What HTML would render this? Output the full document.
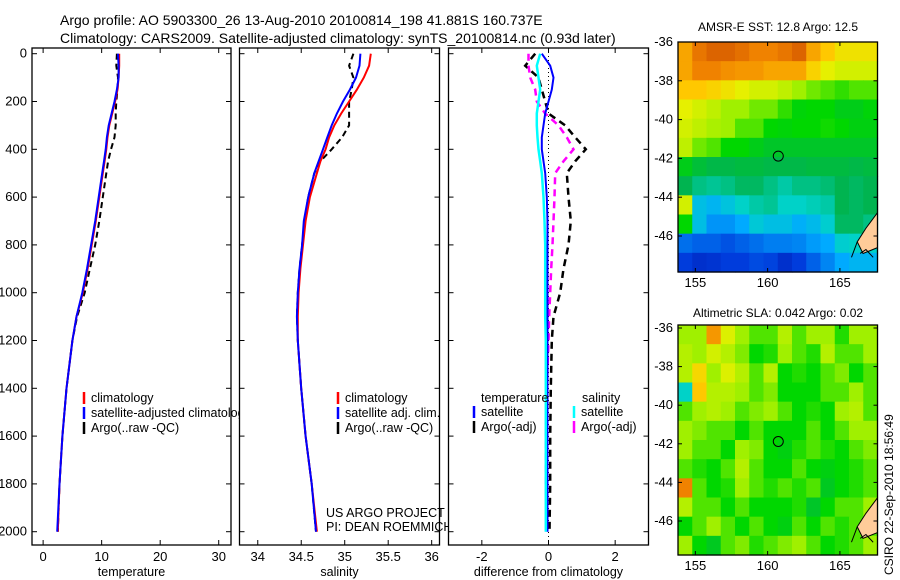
<!DOCTYPE html>
<html><head><meta charset="utf-8"><style>
body{margin:0;background:#fff;}
svg{display:block;font-family:"Liberation Sans",sans-serif;}
</style></head><body>
<svg id="fig" width="900" height="580" viewBox="0 0 900 580">
<text x="60" y="25" font-size="14">Argo profile: AO 5903300_26 13-Aug-2010 20100814_198 41.881S 160.737E</text>
<text x="60" y="43" font-size="14">Climatology: CARS2009. Satellite-adjusted climatology: synTS_20100814.nc (0.93d later)</text>
<text x="778" y="31" font-size="12" text-anchor="middle">AMSR-E SST: 12.8 Argo: 12.5</text>
<text x="778" y="317" font-size="12" text-anchor="middle">Altimetric SLA: 0.042 Argo: 0.02</text>
<text transform="translate(893,575) rotate(-90)" font-size="12">CSIRO 22-Sep-2010 18:56:49</text>
<g id="plots"></g>
</svg>
<script>
// ---- data ----
const depths = [0,50,100,150,200,250,300,350,400,450,500,600,700,800,900,1000,1100,1200,1400,1600,1800,2000];
const tempClim = [13.0,13.0,12.9,12.7,12.3,11.8,11.3,11.0,10.8,10.5,10.2,9.6,9.0,8.3,7.6,6.8,5.7,5.0,4.0,3.3,2.8,2.5];
const tempSat  = [12.8,12.9,12.9,12.6,12.2,11.7,11.2,10.9,10.7,10.4,10.1,9.5,8.9,8.2,7.5,6.7,5.7,5.0,4.0,3.3,2.8,2.4];
const tempArgo = [12.6,12.5,12.8,12.7,12.5,12.4,12.4,12.2,11.6,11.1,10.8,10.2,9.6,8.9,8.0,7.1,5.8,5.0,4.0,3.3,2.8,2.5];
const salClim = [35.30,35.28,35.22,35.14,35.05,34.96,34.88,34.82,34.78,34.72,34.68,34.60,34.55,34.52,34.49,34.47,34.46,34.46,34.50,34.55,34.62,34.68];
const salSat  = [35.18,35.17,35.13,35.06,34.98,34.91,34.85,34.80,34.75,34.70,34.65,34.58,34.53,34.51,34.48,34.46,34.45,34.46,34.50,34.55,34.62,34.67];
const salArgo = [35.10,35.05,35.10,35.08,35.05,35.05,35.05,34.97,34.85,34.72,34.65,34.58,34.54,34.51,34.48,34.46,34.45,34.46,34.50,34.55,34.62,34.67];
const dTempSat  = [-0.2,0.05,0.15,0.1,0,-0.1,-0.15,-0.2,-0.2,-0.15,-0.1,-0.05,-0.03,-0.03,-0.03,-0.03,-0.03,-0.03,-0.03,-0.03,-0.03,-0.03];
const dTempArgo = [-0.4,-0.7,-0.3,-0.2,-0.1,0,0.5,0.8,1.12,0.8,0.55,0.6,0.67,0.6,0.45,0.35,0.15,0.1,0.07,0.05,0.05,0.03];
const dSalSat   = [-0.25,-0.35,-0.3,-0.25,-0.3,-0.35,-0.35,-0.33,-0.3,-0.25,-0.2,-0.15,-0.12,-0.1,-0.1,-0.1,-0.1,-0.08,-0.08,-0.08,-0.08,-0.08];
const dSalArgo  = [-0.6,-0.6,-0.55,-0.4,-0.35,-0.1,0.3,0.55,0.75,0.45,0.2,0.18,0.15,0.12,0.08,0.05,0.02,0.0,-0.05,-0.08,-0.08,-0.05];
const depthTicks = [0,200,400,600,800,1000,1200,1400,1600,1800,2000];
const tempTicks = [0,10,20,30];
const salTicks = [34,34.5,35,35.5,36];
const diffTicks = [-2,0,2];
const lonTicks = [155,160,165];
const latTicks = [-36,-38,-40,-42,-44,-46];
const sstGrid = [
[.85,.92,.95,.95,.93,.9,.9,.92,.95,.85,.8,.75,.75,.75],
[.85,.9,.9,.88,.87,.87,.85,.85,.85,.78,.72,.7,.7,.7],
[.8,.8,.78,.75,.72,.7,.7,.68,.65,.62,.6,.58,.6,.6],
[.72,.7,.68,.65,.65,.62,.62,.58,.54,.55,.55,.52,.52,.54],
[.7,.68,.66,.65,.6,.6,.55,.54,.55,.55,.56,.55,.53,.53],
[.68,.62,.6,.55,.55,.52,.5,.5,.5,.5,.5,.5,.5,.5],
[.52,.48,.46,.46,.47,.47,.46,.46,.46,.47,.47,.47,.46,.47],
[.45,.42,.41,.42,.44,.44,.42,.4,.42,.42,.43,.45,.44,.45],
[.7,.34,.32,.35,.38,.4,.41,.38,.38,.39,.4,.45,.44,.45],
[.55,.34,.27,.27,.3,.36,.34,.34,.31,.33,.37,.44,.44,.42],
[.22,.2,.2,.18,.2,.22,.24,.24,.25,.28,.3,.37,.38,.38],
[.15,.12,.13,.15,.15,.17,.16,.12,.15,.2,.25,.3,.32,.32]];
const slaGrid = [
[.6,.6,.82,.66,.6,.55,.55,.62,.55,.6,.6,.52,.6,.6],
[.62,.6,.65,.62,.58,.5,.52,.6,.55,.52,.62,.55,.55,.6],
[.62,.72,.6,.66,.62,.55,.62,.5,.52,.5,.55,.58,.5,.55],
[.33,.75,.62,.62,.6,.55,.58,.5,.5,.5,.55,.55,.6,.55],
[.55,.6,.62,.6,.55,.58,.6,.55,.5,.52,.5,.6,.62,.55],
[.6,.58,.55,.55,.5,.55,.5,.5,.5,.55,.5,.55,.6,.6],
[.6,.55,.55,.5,.6,.58,.5,.48,.52,.55,.52,.5,.55,.58],
[.55,.52,.5,.55,.62,.55,.5,.5,.55,.5,.48,.5,.52,.55],
[.85,.55,.5,.52,.6,.55,.52,.55,.52,.55,.46,.5,.52,.55],
[.62,.55,.55,.5,.55,.5,.5,.5,.52,.45,.5,.55,.55,.6],
[.5,.55,.6,.55,.5,.55,.5,.48,.55,.5,.55,.52,.55,.55],
[.6,.5,.46,.55,.58,.52,.55,.58,.6,.55,.5,.52,.55,.6]];
const argoLon = 160.737, argoLat = -41.881;

// ---- drawing ----
const NS='http://www.w3.org/2000/svg';
const root=document.getElementById('plots');
function mk(tag,attrs,parent){const e=document.createElementNS(NS,tag);for(const k in attrs)e.setAttribute(k,attrs[k]);(parent||root).appendChild(e);return e;}
const Y0=48,Y1=545;
const yD=d=>53.7+d*0.2390;

function panel(name,x0,x1,vmin,vmax,ticks,fmt,label){
  const g=mk('g',{});
  
  
  const sx=v=>x0+(v-vmin)/(vmax-vmin)*(x1-x0);
  const r=mk('rect',{x:x0,y:Y0,width:x1-x0,height:Y1-Y0,fill:'#fff',stroke:'#000','stroke-width':1.3},g);
  
  
  ticks.forEach(t=>{
    mk('line',{x1:sx(t),x2:sx(t),y1:Y1,y2:Y1-5,stroke:'#000'},g);
    mk('line',{x1:sx(t),x2:sx(t),y1:Y0,y2:Y0+5,stroke:'#000'},g);
    const tx=mk('text',{x:sx(t),y:Y1+16,'font-size':13,'text-anchor':'middle'},g);
    tx.textContent=fmt(t);
    
    
  });
  depthTicks.forEach(d=>{
    mk('line',{x1:x0,x2:x0+5,y1:yD(d),y2:yD(d),stroke:'#000'},g);
    mk('line',{x1:x1,x2:x1-5,y1:yD(d),y2:yD(d),stroke:'#000'},g);
  });
  const xl=mk('text',{x:(x0+x1)/2,y:576,'font-size':12.5,'text-anchor':'middle'},g);
  xl.textContent=label;
  
  
  return {g,sx};
}
function line(p,vals,color,dash,w,name){
  const pts=vals.map((v,i)=>p.sx(v).toFixed(1)+','+yD(depths[i]).toFixed(1)).join(' ');
  const e=mk('polyline',{points:pts,fill:'none',stroke:color,'stroke-width':w||2,'stroke-dasharray':dash||'none'},p.g);
  
  
}
function legend(g,x,y,items){
  items.forEach((it,i)=>{
    mk('line',{x1:x,x2:x,y1:y+i*15-10,y2:y+i*15+2,stroke:it[1],'stroke-width':2.5},g);
    const t=mk('text',{x:x+7,y:y+i*15,'font-size':12.5},g);
    t.textContent=it[0];
    
    
  });
}

depthTicks.forEach(d=>{
  const t=mk('text',{x:27,y:yD(d)+4,'font-size':13,'text-anchor':'end'});
  t.textContent=d;
  
  
});

const p1=panel('temperature-panel',32,231,-1.9,32.1,tempTicks,t=>t,'temperature');
line(p1,tempArgo,'#000','6,4',2,'argo-temperature-line');
line(p1,tempClim,'#f00',null,2,'climatology-temperature-line');
line(p1,tempSat,'#00f',null,2,'satellite-temperature-line');
legend(p1.g,84,402,[['climatology','#f00'],['satellite-adjusted climatology','#00f'],['Argo(..raw -QC)','#000']]);

const p2=panel('salinity-panel',239.5,439.5,33.79,36.09,salTicks,t=>t,'salinity');
line(p2,salArgo,'#000','6,4',2,'argo-salinity-line');
line(p2,salClim,'#f00',null,2,'climatology-salinity-line');
line(p2,salSat,'#00f',null,2,'satellite-salinity-line');
legend(p2.g,338,402,[['climatology','#f00'],['satellite adj. clim.','#00f'],['Argo(..raw -QC)','#000']]);
[['US ARGO PROJECT',517],['PI: DEAN ROEMMICH',531]].forEach(a=>{const t=mk('text',{x:326,y:a[1],'font-size':12.5},p2.g);t.textContent=a[0];});

const p3=panel('difference-panel',448.5,648.5,-3,3,diffTicks,t=>t,'difference from climatology');
mk('line',{x1:p3.sx(0),x2:p3.sx(0),y1:Y0,y2:Y1,stroke:'#000','stroke-dasharray':'1,3'},p3.g);
line(p3,dTempArgo,'#000','7,5',2.5,'argo-temperature-difference');
line(p3,dSalArgo,'#f0f','7,5',2.5,'argo-salinity-difference');
line(p3,dTempSat,'#00f',null,2,'satellite-temperature-difference');
line(p3,dSalSat,'#0ff',null,2.5,'satellite-salinity-difference');
const lt=mk('text',{x:481,y:402,'font-size':12.5},p3.g);lt.textContent='temperature';
const ls=mk('text',{x:582,y:402,'font-size':12.5},p3.g);ls.textContent='salinity';
legend(p3.g,474,416,[['satellite','#00f'],['Argo(-adj)','#000']]);
legend(p3.g,574,416,[['satellite','#0ff'],['Argo(-adj)','#f0f']]);

const stops=[[0,[0,0,140]],[.15,[0,60,220]],[.3,[0,170,255]],[.38,[0,210,200]],[.45,[0,180,80]],[.55,[0,215,0]],[.65,[160,240,0]],[.72,[230,240,0]],[.8,[255,200,0]],[.9,[240,130,0]],[1,[200,70,0]]];
function cmap(v){v=Math.max(0,Math.min(1,v));for(let i=1;i<stops.length;i++){if(v<=stops[i][0]){const a=stops[i-1],b=stops[i],f=(v-a[0])/(b[0]-a[0]);return 'rgb('+a[1].map((c,k)=>Math.round(c+(b[1][k]-c)*f)).join(',')+')';}}return 'rgb(200,70,0)';}

function map(name,grid,x0,x1,y0,y1,lat36y,lat46y,shift){
  const g=mk('g',{});
  
  
  const lonMin=153.8,lonMax=167.6;
  const sx=l=>x0+(l-lonMin)/(lonMax-lonMin)*(x1-x0);
  const sy=la=>lat36y+(la+36)/(-10)*(lat46y-lat36y);
  const latBot=-36-(y1-lat36y)/(lat46y-lat36y)*10, latTop=-36+(lat36y-y0)/(lat46y-lat36y)*10;
  const nr=grid.length,nc=grid[0].length;
  grid.forEach((row,i)=>row.forEach((v,j)=>{
    const la0=latTop-(latTop-latBot)*i/nr, la1=latTop-(latTop-latBot)*(i+1)/nr;
    const lo0=lonMin+(lonMax-lonMin)*j/nc, lo1=lonMin+(lonMax-lonMin)*(j+1)/nc;
    const c=mk('rect',{x:sx(lo0),y:sy(la0),width:sx(lo1)-sx(lo0)+0.6,height:sy(la1)-sy(la0)+0.6,fill:cmap(v+shift)},g);
    
    
  }));
  const land=mk('path',{d:`M${x1} ${sy(-44.8)} L${sx(166.8)} ${sy(-45.6)} L${sx(166.2)} ${sy(-46.3)} L${sx(166.6)} ${sy(-46.9)} L${x1} ${sy(-46.6)} Z`,fill:'#fc9',stroke:'#000','stroke-width':1},g);
  
  
  mk('path',{d:`M${sx(166.2)} ${sy(-46.3)} L${sx(165.8)} ${sy(-47.1)} M${sx(166.4)} ${sy(-46.9)} L${sx(166.8)} ${sy(-46.7)} L${sx(167.3)} ${sy(-47.1)}`,fill:'none',stroke:'#000'},g);
  const ci=mk('circle',{cx:sx(argoLon),cy:sy(argoLat),r:5,fill:'none',stroke:'#000','stroke-width':1},g);
  
  
  mk('rect',{x:x0,y:y0,width:x1-x0,height:y1-y0,fill:'none',stroke:'#000','stroke-width':1.3},g);
  lonTicks.forEach(l=>{
    mk('line',{x1:sx(l),x2:sx(l),y1:y1,y2:y1-4,stroke:'#000'},g);
    mk('line',{x1:sx(l),x2:sx(l),y1:y0,y2:y0+4,stroke:'#000'},g);
    const t=mk('text',{x:sx(l),y:y1+15,'font-size':13,'text-anchor':'middle'},g);t.textContent=l;
    
  });
  latTicks.forEach(la=>{
    mk('line',{x1:x0,x2:x0+4,y1:sy(la),y2:sy(la),stroke:'#000'},g);
    mk('line',{x1:x1,x2:x1-4,y1:sy(la),y2:sy(la),stroke:'#000'},g);
    const t=mk('text',{x:x0-5,y:sy(la)+4,'font-size':13,'text-anchor':'end'},g);t.textContent=la;
    
  });
}
map('sst-map',sstGrid,678,877.5,42,272,42,236,0);
map('sla-map',slaGrid,678,877.5,325,555,328,521,0.05);
</script>
</body></html>
